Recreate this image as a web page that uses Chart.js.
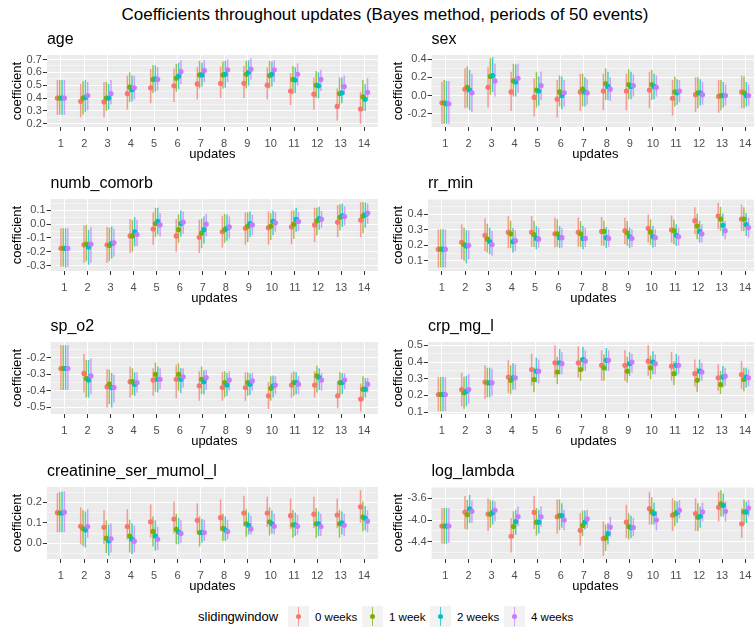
<!DOCTYPE html>
<html>
<head>
<meta charset="utf-8">
<title>Coefficients throughout updates</title>
<script src="https://cdn.jsdelivr.net/npm/chart.js@4.4.1/dist/chart.umd.min.js"></script>
<style>
  html, body { margin: 0; padding: 0; background: #ffffff; }
  body {
    width: 754px; height: 629px; overflow: hidden; position: relative;
    font-family: "Liberation Sans", Arial, sans-serif; color: #000;
  }
  canvas { position: absolute; }
  .main-title {
    position: absolute; left: 0; top: 5px; width: 770px;
    text-align: center; font-size: 17px; line-height: 20px;
  }
  .panel-title {
    position: absolute; font-size: 16px; line-height: 16px; white-space: nowrap;
  }
  .legend-title, .legend-label {
    position: absolute; white-space: nowrap; line-height: 16px;
  }
  .legend-title { font-size: 13px; }
  .legend-label { font-size: 11.5px; }
  .legend-key {
    position: absolute; width: 21px; height: 21px; background: #f2f2f2;
  }
  .legend-key .bar { position: absolute; left: 9.7px; top: 1px; width: 1.6px; height: 19px; }
  .legend-key .dot { position: absolute; left: 8px; top: 8px; width: 5px; height: 5px; border-radius: 50%; }
</style>
</head>
<body>
<div class="main-title">Coefficients throughout updates (Bayes method, periods of 50 events)</div>

<script>
// ------------------------------------------------------------
// Shared categories
// ------------------------------------------------------------
const updates = [1, 2, 3, 4, 5, 6, 7, 8, 9, 10, 11, 12, 13, 14];
const windowLabels = ["0 weeks", "1 week", "2 weeks", "4 weeks"];
const windowColors = ["#F8766D", "#7CAE00", "#00BFC4", "#C77CFF"];
const windowDodge = [-0.15, -0.05, 0.05, 0.15];

// ------------------------------------------------------------
// age
// ------------------------------------------------------------
const ageTicks = ["0.2", "0.3", "0.4", "0.5", "0.6", "0.7"];
const ageRange = [0.175, 0.735];
const ageMean = [
  [0.40, 0.375, 0.37, 0.435, 0.48, 0.495, 0.51, 0.515, 0.515, 0.50, 0.455, 0.43, 0.335, 0.315],
  [0.40, 0.40, 0.40, 0.485, 0.545, 0.555, 0.58, 0.58, 0.585, 0.575, 0.545, 0.50, 0.435, 0.41],
  [0.40, 0.405, 0.40, 0.465, 0.55, 0.57, 0.58, 0.585, 0.60, 0.585, 0.54, 0.495, 0.44, 0.39],
  [0.40, 0.42, 0.435, 0.48, 0.545, 0.605, 0.615, 0.62, 0.625, 0.62, 0.585, 0.545, 0.49, 0.445]
];
const ageLow = [
  [0.27, 0.25, 0.25, 0.31, 0.36, 0.37, 0.39, 0.40, 0.40, 0.39, 0.345, 0.31, 0.225, 0.20],
  [0.27, 0.27, 0.30, 0.37, 0.44, 0.45, 0.475, 0.475, 0.475, 0.475, 0.43, 0.40, 0.345, 0.30],
  [0.27, 0.29, 0.31, 0.375, 0.45, 0.47, 0.49, 0.48, 0.495, 0.49, 0.44, 0.40, 0.36, 0.30],
  [0.27, 0.305, 0.35, 0.39, 0.46, 0.51, 0.525, 0.525, 0.545, 0.525, 0.495, 0.455, 0.425, 0.39]
];
const ageHigh = [
  [0.54, 0.51, 0.525, 0.575, 0.625, 0.63, 0.64, 0.645, 0.65, 0.64, 0.595, 0.56, 0.475, 0.45],
  [0.54, 0.53, 0.525, 0.60, 0.655, 0.665, 0.69, 0.685, 0.69, 0.69, 0.65, 0.61, 0.56, 0.54],
  [0.54, 0.54, 0.51, 0.575, 0.655, 0.675, 0.675, 0.69, 0.695, 0.685, 0.64, 0.60, 0.56, 0.51],
  [0.54, 0.525, 0.54, 0.575, 0.64, 0.695, 0.695, 0.70, 0.71, 0.695, 0.67, 0.62, 0.575, 0.555]
];

// ------------------------------------------------------------
// sex
// ------------------------------------------------------------
const sexTicks = ["-0.2", "0.0", "0.2", "0.4"];
const sexRange = [-0.345, 0.445];
const sexMean = [
  [-0.08, 0.07, 0.09, 0.04, -0.02, -0.04, 0.04, 0.05, 0.05, 0.06, -0.03, 0.01, -0.01, 0.04],
  [-0.08, 0.09, 0.21, 0.16, 0.06, 0.04, 0.07, 0.13, 0.12, 0.12, 0.04, 0.03, 0.00, 0.03],
  [-0.09, 0.06, 0.22, 0.15, 0.05, 0.00, 0.04, 0.10, 0.10, 0.10, 0.03, 0.03, 0.00, 0.00],
  [-0.09, 0.03, 0.16, 0.19, 0.11, 0.03, 0.03, 0.07, 0.11, 0.09, 0.05, 0.01, 0.00, 0.00]
];
const sexLow = [
  [-0.31, -0.14, -0.13, -0.17, -0.23, -0.24, -0.17, -0.16, -0.16, -0.14, -0.22, -0.18, -0.19, -0.14],
  [-0.31, -0.13, 0.01, -0.01, -0.13, -0.12, -0.12, -0.05, -0.04, -0.05, -0.12, -0.14, -0.16, -0.14],
  [-0.31, -0.16, 0.04, -0.01, -0.11, -0.15, -0.12, -0.05, -0.04, -0.04, -0.10, -0.11, -0.13, -0.12],
  [-0.31, -0.18, -0.01, 0.03, -0.05, -0.12, -0.10, -0.06, -0.01, -0.01, -0.07, -0.10, -0.11, -0.11]
];
const sexHigh = [
  [0.15, 0.30, 0.31, 0.26, 0.19, 0.17, 0.24, 0.24, 0.24, 0.26, 0.17, 0.20, 0.17, 0.22],
  [0.17, 0.32, 0.41, 0.35, 0.26, 0.22, 0.24, 0.30, 0.29, 0.28, 0.21, 0.20, 0.17, 0.21],
  [0.16, 0.28, 0.42, 0.34, 0.21, 0.21, 0.20, 0.26, 0.26, 0.24, 0.18, 0.18, 0.15, 0.15],
  [0.16, 0.24, 0.35, 0.35, 0.26, 0.17, 0.18, 0.20, 0.23, 0.22, 0.17, 0.15, 0.12, 0.12]
];

// ------------------------------------------------------------
// numb_comorb
// ------------------------------------------------------------
const comorbTicks = ["-0.3", "-0.2", "-0.1", "0.0", "0.1"];
const comorbRange = [-0.34, 0.183];
const comorbMean = [
  [-0.175, -0.15, -0.15, -0.085, -0.035, -0.085, -0.095, -0.055, -0.03, -0.025, -0.02, -0.005, 0.015, 0.03],
  [-0.175, -0.145, -0.155, -0.085, 0.005, -0.04, -0.065, -0.04, -0.015, -0.015, 0.00, 0.025, 0.05, 0.06],
  [-0.175, -0.165, -0.14, -0.055, 0.02, 0.005, -0.04, -0.03, 0.005, 0.02, 0.035, 0.04, 0.06, 0.07],
  [-0.175, -0.145, -0.135, -0.075, -0.005, 0.015, 0.00, -0.02, -0.005, 0.01, 0.02, 0.035, 0.055, 0.08]
];
const comorbLow = [
  [-0.31, -0.28, -0.28, -0.21, -0.15, -0.20, -0.21, -0.17, -0.15, -0.15, -0.145, -0.13, -0.095, -0.095],
  [-0.31, -0.27, -0.27, -0.20, -0.095, -0.135, -0.175, -0.135, -0.13, -0.115, -0.105, -0.08, -0.045, -0.065],
  [-0.315, -0.295, -0.25, -0.16, -0.075, -0.09, -0.14, -0.12, -0.095, -0.08, -0.055, -0.04, -0.02, -0.025],
  [-0.31, -0.28, -0.235, -0.16, -0.09, -0.07, -0.09, -0.105, -0.08, -0.055, -0.05, -0.025, -0.01, 0.0]
];
const comorbHigh = [
  [-0.03, -0.01, -0.02, 0.038, 0.086, 0.038, 0.033, 0.062, 0.086, 0.093, 0.10, 0.12, 0.138, 0.16],
  [-0.03, -0.005, -0.026, 0.03, 0.117, 0.07, 0.04, 0.074, 0.086, 0.08, 0.10, 0.12, 0.145, 0.16],
  [-0.03, -0.04, -0.017, 0.05, 0.12, 0.10, 0.055, 0.07, 0.093, 0.10, 0.12, 0.126, 0.15, 0.157],
  [-0.03, -0.02, -0.033, 0.03, 0.079, 0.093, 0.074, 0.055, 0.069, 0.086, 0.086, 0.098, 0.13, 0.15]
];

// ------------------------------------------------------------
// rr_min
// ------------------------------------------------------------
const rrTicks = ["0.1", "0.2", "0.3", "0.4"];
const rrRange = [0.034, 0.5];
const rrMean = [
  [0.175, 0.22, 0.265, 0.285, 0.285, 0.275, 0.285, 0.29, 0.295, 0.31, 0.30, 0.36, 0.39, 0.37],
  [0.175, 0.205, 0.24, 0.275, 0.27, 0.275, 0.275, 0.29, 0.28, 0.285, 0.295, 0.325, 0.37, 0.37],
  [0.175, 0.195, 0.225, 0.225, 0.245, 0.25, 0.245, 0.25, 0.255, 0.255, 0.265, 0.29, 0.33, 0.335],
  [0.175, 0.20, 0.205, 0.23, 0.24, 0.25, 0.245, 0.245, 0.245, 0.25, 0.255, 0.275, 0.295, 0.315]
];
const rrLow = [
  [0.057, 0.11, 0.164, 0.182, 0.19, 0.186, 0.19, 0.197, 0.207, 0.218, 0.218, 0.272, 0.304, 0.293],
  [0.057, 0.10, 0.154, 0.182, 0.19, 0.19, 0.19, 0.197, 0.197, 0.203, 0.207, 0.24, 0.293, 0.293],
  [0.057, 0.083, 0.143, 0.154, 0.175, 0.182, 0.175, 0.182, 0.182, 0.186, 0.197, 0.218, 0.26, 0.26],
  [0.057, 0.11, 0.132, 0.164, 0.186, 0.186, 0.19, 0.19, 0.19, 0.19, 0.197, 0.218, 0.24, 0.25]
];
const rrHigh = [
  [0.304, 0.336, 0.374, 0.389, 0.389, 0.379, 0.379, 0.383, 0.379, 0.40, 0.394, 0.447, 0.475, 0.464],
  [0.304, 0.314, 0.34, 0.36, 0.36, 0.368, 0.357, 0.36, 0.357, 0.368, 0.368, 0.404, 0.449, 0.447],
  [0.304, 0.297, 0.314, 0.31, 0.325, 0.325, 0.325, 0.319, 0.314, 0.325, 0.336, 0.36, 0.404, 0.41],
  [0.304, 0.297, 0.293, 0.297, 0.314, 0.31, 0.314, 0.304, 0.304, 0.304, 0.314, 0.336, 0.357, 0.379]
];

// ------------------------------------------------------------
// sp_o2
// ------------------------------------------------------------
const spo2Ticks = ["-0.5", "-0.4", "-0.3", "-0.2"];
const spo2Range = [-0.54, -0.105];
const spo2Mean = [
  [-0.265, -0.295, -0.375, -0.345, -0.335, -0.33, -0.37, -0.38, -0.38, -0.43, -0.365, -0.365, -0.43, -0.45],
  [-0.265, -0.325, -0.36, -0.345, -0.30, -0.30, -0.33, -0.35, -0.35, -0.385, -0.35, -0.31, -0.35, -0.39],
  [-0.265, -0.335, -0.38, -0.36, -0.33, -0.33, -0.345, -0.365, -0.36, -0.37, -0.35, -0.32, -0.35, -0.39],
  [-0.265, -0.31, -0.38, -0.35, -0.33, -0.315, -0.32, -0.335, -0.34, -0.365, -0.36, -0.335, -0.335, -0.36]
];
const spo2Low = [
  [-0.395, -0.41, -0.50, -0.44, -0.43, -0.445, -0.46, -0.46, -0.46, -0.51, -0.44, -0.44, -0.505, -0.525],
  [-0.395, -0.44, -0.48, -0.425, -0.405, -0.40, -0.42, -0.44, -0.43, -0.46, -0.43, -0.41, -0.425, -0.46],
  [-0.395, -0.44, -0.50, -0.43, -0.41, -0.415, -0.42, -0.43, -0.425, -0.44, -0.42, -0.395, -0.42, -0.44],
  [-0.395, -0.42, -0.47, -0.41, -0.39, -0.38, -0.395, -0.40, -0.40, -0.42, -0.42, -0.40, -0.39, -0.41]
];
const spo2High = [
  [-0.125, -0.178, -0.27, -0.253, -0.263, -0.243, -0.282, -0.288, -0.288, -0.347, -0.292, -0.282, -0.347, -0.355],
  [-0.125, -0.214, -0.273, -0.263, -0.229, -0.233, -0.253, -0.282, -0.288, -0.312, -0.282, -0.249, -0.288, -0.312],
  [-0.125, -0.214, -0.292, -0.288, -0.253, -0.263, -0.276, -0.292, -0.296, -0.308, -0.288, -0.263, -0.292, -0.322],
  [-0.125, -0.204, -0.302, -0.288, -0.263, -0.263, -0.273, -0.282, -0.292, -0.312, -0.312, -0.292, -0.296, -0.322]
];

// ------------------------------------------------------------
// crp_mg_l
// ------------------------------------------------------------
const crpTicks = ["0.1", "0.2", "0.3", "0.4", "0.5"];
const crpRange = [0.088, 0.52];
const crpMean = [
  [0.205, 0.235, 0.28, 0.31, 0.355, 0.395, 0.395, 0.38, 0.38, 0.405, 0.375, 0.33, 0.305, 0.325],
  [0.205, 0.215, 0.275, 0.29, 0.295, 0.34, 0.355, 0.365, 0.345, 0.365, 0.33, 0.29, 0.265, 0.295],
  [0.205, 0.225, 0.275, 0.305, 0.345, 0.395, 0.415, 0.41, 0.39, 0.40, 0.38, 0.345, 0.31, 0.31],
  [0.205, 0.235, 0.275, 0.305, 0.345, 0.39, 0.405, 0.41, 0.40, 0.39, 0.38, 0.34, 0.315, 0.305]
];
const crpLow = [
  [0.105, 0.135, 0.178, 0.214, 0.257, 0.307, 0.307, 0.287, 0.287, 0.317, 0.287, 0.253, 0.228, 0.238],
  [0.105, 0.12, 0.188, 0.208, 0.218, 0.267, 0.287, 0.287, 0.277, 0.297, 0.26, 0.222, 0.208, 0.224],
  [0.105, 0.135, 0.188, 0.234, 0.277, 0.326, 0.346, 0.346, 0.317, 0.326, 0.317, 0.287, 0.247, 0.247],
  [0.105, 0.149, 0.198, 0.234, 0.273, 0.326, 0.346, 0.346, 0.336, 0.326, 0.326, 0.287, 0.257, 0.253]
];
const crpHigh = [
  [0.31, 0.336, 0.38, 0.41, 0.45, 0.50, 0.494, 0.47, 0.47, 0.50, 0.46, 0.415, 0.386, 0.405],
  [0.31, 0.312, 0.366, 0.38, 0.366, 0.431, 0.425, 0.445, 0.431, 0.439, 0.405, 0.366, 0.346, 0.366],
  [0.31, 0.317, 0.366, 0.392, 0.425, 0.478, 0.49, 0.484, 0.459, 0.464, 0.45, 0.415, 0.376, 0.366],
  [0.31, 0.326, 0.36, 0.386, 0.415, 0.459, 0.47, 0.47, 0.45, 0.445, 0.439, 0.395, 0.366, 0.356]
];

// ------------------------------------------------------------
// creatinine_ser_mumol_l
// ------------------------------------------------------------
const creatTicks = ["0.0", "0.1", "0.2"];
const creatRange = [-0.077, 0.275];
const creatMean = [
  [0.15, 0.083, 0.078, 0.082, 0.105, 0.118, 0.112, 0.125, 0.148, 0.148, 0.135, 0.142, 0.138, 0.178],
  [0.148, 0.072, 0.025, 0.035, 0.058, 0.068, 0.052, 0.073, 0.095, 0.105, 0.09, 0.095, 0.095, 0.128],
  [0.148, 0.065, 0.012, 0.02, 0.035, 0.055, 0.052, 0.065, 0.088, 0.095, 0.09, 0.095, 0.10, 0.122],
  [0.152, 0.082, 0.022, 0.01, 0.02, 0.048, 0.052, 0.058, 0.07, 0.083, 0.083, 0.082, 0.088, 0.108]
];
const creatLow = [
  [0.054, -0.005, -0.005, 0.019, 0.027, 0.048, 0.048, 0.059, 0.083, 0.08, 0.07, 0.075, 0.075, 0.10],
  [0.054, -0.013, -0.048, -0.045, -0.016, -0.005, -0.016, 0.011, 0.032, 0.038, 0.027, 0.027, 0.027, 0.059],
  [0.054, -0.021, -0.061, -0.053, -0.037, -0.005, 0.0, 0.011, 0.043, 0.048, 0.035, 0.035, 0.043, 0.064],
  [0.054, 0.027, -0.045, -0.045, -0.032, 0.0, 0.011, 0.019, 0.043, 0.043, 0.043, 0.035, 0.035, 0.054]
];
const creatHigh = [
  [0.246, 0.176, 0.163, 0.166, 0.19, 0.203, 0.195, 0.214, 0.232, 0.227, 0.219, 0.227, 0.219, 0.259],
  [0.252, 0.163, 0.112, 0.115, 0.131, 0.144, 0.131, 0.144, 0.166, 0.176, 0.163, 0.171, 0.163, 0.203],
  [0.252, 0.155, 0.091, 0.096, 0.112, 0.123, 0.118, 0.131, 0.15, 0.16, 0.15, 0.155, 0.155, 0.182],
  [0.254, 0.166, 0.096, 0.086, 0.08, 0.112, 0.115, 0.115, 0.134, 0.144, 0.139, 0.144, 0.144, 0.16]
];

// ------------------------------------------------------------
// log_lambda
// ------------------------------------------------------------
const lambdaTicks = ["-4.4", "-4.0", "-3.6"];
const lambdaRange = [-4.72, -3.39];
const lambdaMean = [
  [-4.11, -3.855, -3.89, -4.30, -3.86, -3.94, -4.19, -4.345, -4.04, -3.79, -3.91, -3.88, -3.765, -4.07],
  [-4.11, -3.90, -3.89, -4.12, -4.04, -3.92, -4.10, -4.33, -4.12, -3.85, -3.89, -3.95, -3.70, -3.85],
  [-4.11, -3.795, -3.86, -4.03, -4.04, -3.92, -4.04, -4.25, -4.14, -3.88, -3.86, -3.93, -3.73, -3.85],
  [-4.11, -3.84, -3.82, -3.935, -3.94, -4.00, -3.98, -4.13, -4.14, -4.00, -3.82, -3.85, -3.84, -3.78]
];
const lambdaLow = [
  [-4.44, -4.165, -4.205, -4.60, -4.165, -4.25, -4.47, -4.66, -4.33, -4.085, -4.205, -4.205, -4.025, -4.33],
  [-4.44, -4.175, -4.145, -4.33, -4.285, -4.19, -4.30, -4.57, -4.36, -4.085, -4.115, -4.205, -3.935, -4.085],
  [-4.44, -4.055, -4.085, -4.27, -4.25, -4.145, -4.175, -4.45, -4.33, -4.085, -4.055, -4.145, -3.935, -4.055],
  [-4.42, -4.055, -4.025, -4.115, -4.125, -4.19, -4.145, -4.31, -4.30, -4.19, -3.965, -4.025, -4.025, -3.935]
];
const lambdaHigh = [
  [-3.78, -3.555, -3.60, -3.965, -3.555, -3.62, -3.875, -4.025, -3.72, -3.48, -3.60, -3.60, -3.48, -3.78],
  [-3.78, -3.63, -3.63, -3.84, -3.78, -3.62, -3.825, -4.085, -3.875, -3.58, -3.64, -3.69, -3.45, -3.62],
  [-3.78, -3.54, -3.64, -3.81, -3.81, -3.69, -3.825, -4.055, -3.92, -3.68, -3.66, -3.75, -3.51, -3.66],
  [-3.78, -3.64, -3.66, -3.75, -3.75, -3.81, -3.81, -3.945, -3.96, -3.84, -3.63, -3.68, -3.66, -3.63]
];

// Facets in reading order (left column, right column)
const panels = [
  { name: "age", ticks: ageTicks, range: ageRange, mean: ageMean, low: ageLow, high: ageHigh },
  { name: "sex", ticks: sexTicks, range: sexRange, mean: sexMean, low: sexLow, high: sexHigh },
  { name: "numb_comorb", ticks: comorbTicks, range: comorbRange, mean: comorbMean, low: comorbLow, high: comorbHigh },
  { name: "rr_min", ticks: rrTicks, range: rrRange, mean: rrMean, low: rrLow, high: rrHigh },
  { name: "sp_o2", ticks: spo2Ticks, range: spo2Range, mean: spo2Mean, low: spo2Low, high: spo2High },
  { name: "crp_mg_l", ticks: crpTicks, range: crpRange, mean: crpMean, low: crpLow, high: crpHigh },
  { name: "creatinine_ser_mumol_l", ticks: creatTicks, range: creatRange, mean: creatMean, low: creatLow, high: creatHigh },
  { name: "log_lambda", ticks: lambdaTicks, range: lambdaRange, mean: lambdaMean, low: lambdaLow, high: lambdaHigh }
];

// ------------------------------------------------------------
// Layout
// ------------------------------------------------------------
const COL_X = [0, 381];
const CELL_W = 381;
const PANEL_TOP = [55, 199, 342, 487];
const PANEL_H = 72;
const PAD_TOP = 10;
const X_AXIS_H = 36;

const PANEL_BG = "#EBEBEB";
const TICK_TEXT = "#4D4D4D";
const TICK_MARK = "#333333";

Chart.defaults.font.family = '"Liberation Sans", Arial, sans-serif';
Chart.defaults.color = TICK_TEXT;

// grey panel behind the grid
const panelBackground = {
  id: "panelBackground",
  beforeDraw(chart) {
    const { ctx, chartArea: a } = chart;
    ctx.save();
    ctx.fillStyle = PANEL_BG;
    ctx.fillRect(a.left, a.top, a.right - a.left, a.bottom - a.top);
    ctx.restore();
  }
};

function withAlpha(hex, alpha) {
  const n = parseInt(hex.slice(1), 16);
  return `rgba(${(n >> 16) & 255}, ${(n >> 8) & 255}, ${n & 255}, ${alpha})`;
}

function keyOf(v) {
  return Number(v).toFixed(4);
}

// major breaks plus the minor lines half way between them
function gridValues(breaks, range) {
  const step = breaks[1] - breaks[0];
  const out = [];
  let v = breaks[0] - step / 2;
  while (v - step / 2 >= range[0]) v -= step / 2;
  for (; v <= range[1] + 1e-9; v += step / 2) {
    if (v >= range[0] - 1e-9) out.push(Number(v.toFixed(6)));
  }
  return out;
}

function buildDatasets(panel) {
  const sets = [];

  // error bars (floating bars, lo..hi)
  windowLabels.forEach((label, s) => {
    sets.push({
      type: "bar",
      label: label + " range",
      data: updates.map((u, i) => ({ x: u + windowDodge[s], y: [panel.low[s][i], panel.high[s][i]] })),
      backgroundColor: withAlpha(windowColors[s], 0.7),
      borderWidth: 0,
      barThickness: 1.5,
      inflateAmount: 0,
      grouped: false,
      order: 10 + s
    });
  });

  // point estimates on top
  windowLabels.forEach((label, s) => {
    sets.push({
      type: "scatter",
      label: label,
      data: updates.map((u, i) => ({ x: u + windowDodge[s], y: panel.mean[s][i] })),
      backgroundColor: windowColors[s],
      borderWidth: 0,
      pointRadius: 2.6,
      clip: false,
      order: 4 - s
    });
  });

  return sets;
}

function createPanel(panel, idx) {
  const col = idx % 2;
  const row = Math.floor(idx / 2);
  const left = COL_X[col];
  const top = PANEL_TOP[row] - PAD_TOP;

  const canvas = document.createElement("canvas");
  canvas.width = CELL_W;
  canvas.height = PAD_TOP + PANEL_H + X_AXIS_H;
  canvas.style.left = left + "px";
  canvas.style.top = top + "px";
  document.body.appendChild(canvas);

  const breakValues = panel.ticks.map(Number);
  const labelByValue = new Map(panel.ticks.map(t => [keyOf(t), t]));
  const yGrid = gridValues(breakValues, panel.range);
  const isMajor = v => labelByValue.has(keyOf(v));

  const chart = new Chart(canvas, {
    type: "scatter",
    data: { datasets: buildDatasets(panel) },
    options: {
      responsive: false,
      animation: false,
      devicePixelRatio: 1,
      events: [],
      layout: { autoPadding: false, padding: { top: PAD_TOP, right: 3, bottom: 0, left: 0 } },
      plugins: {
        legend: { display: false },
        tooltip: { enabled: false }
      },
      scales: {
        x: {
          type: "linear",
          min: 0.4,
          max: 14.6,
          offset: false,
          afterBuildTicks: scale => {
            scale.ticks = updates.map(v => ({ value: v }));
          },
          afterFit: scale => {
            scale.height = X_AXIS_H;
          },
          ticks: {
            autoSkip: false,
            maxRotation: 0,
            padding: 6,
            color: TICK_TEXT,
            font: { size: 11 },
            callback: v => String(v)
          },
          grid: {
            offset: false,
            color: "#FFFFFF",
            lineWidth: 1,
            tickColor: TICK_MARK,
            tickLength: 4
          },
          border: { display: false },
          title: {
            display: true,
            text: "updates",
            color: "#000000",
            font: { size: 13 },
            padding: { top: 0, bottom: 1 }
          }
        },
        y: {
          type: "linear",
          min: panel.range[0],
          max: panel.range[1],
          afterBuildTicks: scale => {
            scale.ticks = yGrid.map(v => ({ value: v }));
          },
          ticks: {
            autoSkip: false,
            padding: 1,
            color: TICK_TEXT,
            font: { size: 11 },
            callback: v => labelByValue.get(keyOf(v)) || ""
          },
          grid: {
            color: "#FFFFFF",
            lineWidth: ctx => (ctx.tick && isMajor(ctx.tick.value) ? 1 : 0.5),
            tickColor: ctx => (ctx.tick && isMajor(ctx.tick.value) ? TICK_MARK : "rgba(0,0,0,0)"),
            tickLength: 4
          },
          border: { display: false },
          title: {
            display: true,
            text: "coefficient",
            color: "#000000",
            font: { size: 13 },
            padding: { top: 10, bottom: 0 }
          }
        }
      }
    },
    plugins: [panelBackground]
  });

  // facet title, aligned with the panel's left edge
  const title = document.createElement("div");
  title.className = "panel-title";
  title.textContent = panel.name;
  title.style.left = (left + chart.chartArea.left) + "px";
  title.style.top = (PANEL_TOP[row] - 24) + "px";
  document.body.appendChild(title);

  return chart;
}

// ------------------------------------------------------------
// Legend along the bottom
// ------------------------------------------------------------
const LEGEND_Y = 606;
const LEGEND_KEY_X = [288, 362, 430, 504];

function createLegend() {
  const heading = document.createElement("div");
  heading.className = "legend-title";
  heading.textContent = "slidingwindow";
  heading.style.left = "198px";
  heading.style.top = (LEGEND_Y + 3) + "px";
  document.body.appendChild(heading);

  windowLabels.forEach((label, s) => {
    const key = document.createElement("div");
    key.className = "legend-key";
    key.style.left = LEGEND_KEY_X[s] + "px";
    key.style.top = LEGEND_Y + "px";

    const bar = document.createElement("div");
    bar.className = "bar";
    bar.style.background = withAlpha(windowColors[s], 0.7);
    const dot = document.createElement("div");
    dot.className = "dot";
    dot.style.background = windowColors[s];
    key.appendChild(bar);
    key.appendChild(dot);
    document.body.appendChild(key);

    const text = document.createElement("div");
    text.className = "legend-label";
    text.textContent = label;
    text.style.left = (LEGEND_KEY_X[s] + 27) + "px";
    text.style.top = (LEGEND_Y + 3) + "px";
    document.body.appendChild(text);
  });
}

panels.forEach(createPanel);
createLegend();
</script>
</body>
</html>
